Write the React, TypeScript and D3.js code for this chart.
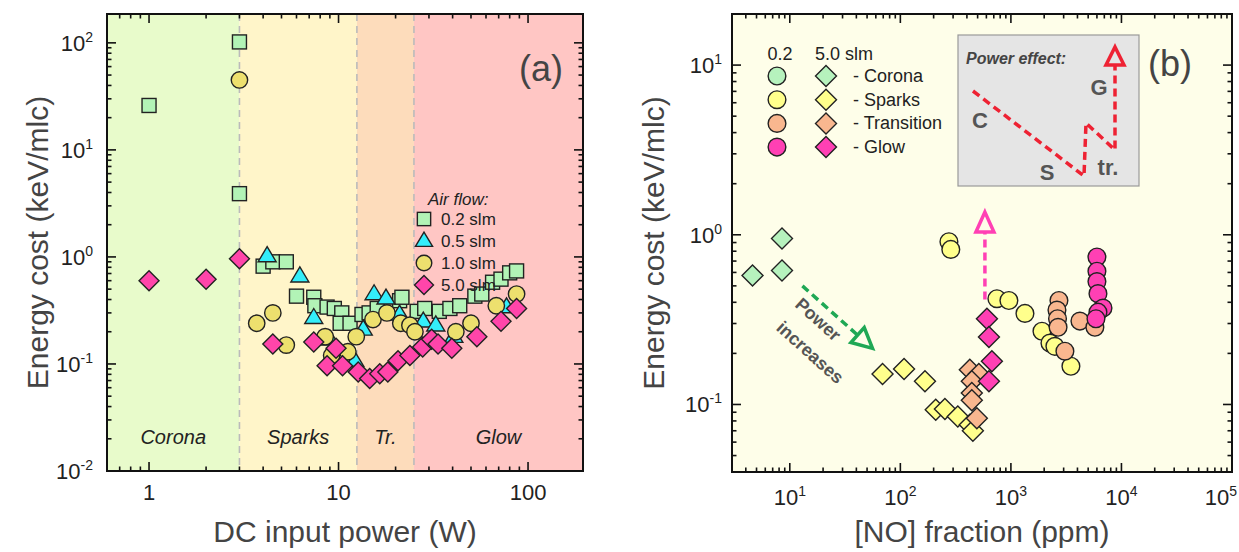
import React from "react";
import * as d3 from "d3";

const FONT = "'Liberation Sans', Arial, Helvetica, sans-serif";

// ---- panel (a): energy cost (keV/mlc) vs DC input power (W), by air flow ----
const flow02: [number, number][] = [
  [1, 26], [3, 102], [3, 3.9], [4.0, 0.82], [4.5, 0.9], [5.3, 0.9], [6.0, 0.43],
  [7.4, 0.42], [7.5, 0.35], [8.7, 0.34], [9.5, 0.33], [10.4, 0.3], [10.2, 0.24],
  [11.5, 0.24], [13.3, 0.29], [14.5, 0.3], [16, 0.33], [21, 0.39], [21.6, 0.42],
  [26, 0.31], [28.5, 0.33], [34, 0.31], [38.7, 0.33], [43.6, 0.35], [52.4, 0.43],
  [57, 0.45], [65, 0.58], [72, 0.62], [80, 0.71], [87, 0.74],
];
const flow05: [number, number][] = [
  [4.2, 1.02], [6.25, 0.66], [7.4, 0.27], [9, 0.17], [12.2, 0.107], [13.5, 0.21],
  [15.4, 0.45], [17.8, 0.41], [21, 0.29], [28, 0.25], [32.6, 0.23], [40.6, 0.18], [77, 0.34],
];
const flow10: [number, number][] = [
  [3, 45], [3.7, 0.24], [4.5, 0.3], [5.3, 0.15], [8.5, 0.18], [9.2, 0.12], [11.2, 0.13],
  [12.4, 0.18], [15.2, 0.26], [18, 0.3], [21.3, 0.24], [23.8, 0.23], [25.3, 0.2],
  [41.6, 0.2], [50, 0.24], [68, 0.35], [87, 0.45],
];
const flow50: [number, number][] = [
  [1, 0.6], [2, 0.62], [3, 0.96], [4.5, 0.154], [7.4, 0.16], [8.7, 0.096], [9.7, 0.14],
  [10.5, 0.096], [12.7, 0.084], [14.6, 0.073], [16.5, 0.081], [18.2, 0.084], [20.6, 0.107],
  [23.8, 0.12], [27.8, 0.144], [31, 0.17], [33.5, 0.154], [39.6, 0.14], [53.7, 0.18],
  [72, 0.25], [87, 0.33],
];
const flowLabels = ["0.2 slm", "0.5 slm", "1.0 slm", "5.0 slm"];

const regimeNames = ["Corona", "Sparks", "Tr.", "Glow"];
const regimeEdges = [0.6, 3, 12.5, 25, 195];
const regimeFills = ["#e8fbcb", "#fff5c9", "#fddcbb", "#ffc6c4"];

// ---- panel (b): energy cost vs [NO] (ppm); 0.2 slm circles, 5.0 slm diamonds ----
const coronaDiamonds: [number, number][] = [[4.6, 0.575], [8.5, 0.95], [8.5, 0.615]];
const sparksDiamonds: [number, number][] = [
  [69, 0.151], [108, 0.162], [167, 0.137], [209, 0.093], [253, 0.094], [331, 0.085],
  [425, 0.076], [453, 0.07],
];
const transDiamonds: [number, number][] = [
  [425, 0.16], [513, 0.151], [443, 0.137], [443, 0.117], [443, 0.106], [492, 0.083],
];
const glowDiamonds: [number, number][] = [[607, 0.32], [633, 0.25], [673, 0.18], [633, 0.137]];
const sparksCircles: [number, number][] = [
  [275, 0.91], [286, 0.82], [747, 0.42], [959, 0.41], [1340, 0.344], [1910, 0.27],
  [2255, 0.23], [2500, 0.22], [3490, 0.168],
];
const transCircles: [number, number][] = [
  [2720, 0.41], [2610, 0.36], [2640, 0.32], [2670, 0.285], [3080, 0.206], [4210, 0.31], [5750, 0.285],
];
const glowCircles: [number, number][] = [
  [6000, 0.74], [6000, 0.61], [6000, 0.53], [6130, 0.45], [6810, 0.37], [6130, 0.35], [5880, 0.32],
];
const stageNames = ["- Corona", "- Sparks", "- Transition", "- Glow"];
const stageFills = ["#b6f2bd", "#ffff8c", "#f9b78f", "#ff40b4"];

const box = {
  a: { l: 107, r: 583, t: 14, b: 471 },
  b: { l: 732, r: 1232, t: 14, b: 472 },
};

const xA = d3.scaleLog().domain([0.6, 195]).range([box.a.l, box.a.r]);
const yA = d3.scaleLog().domain([0.01, 186]).range([box.a.b, box.a.t]);
const xB = d3.scaleLog().domain([3, 1e5]).range([box.b.l, box.b.r]);
const yB = d3.scaleLog().domain([0.04, 20]).range([box.b.b, box.b.t]);

const isPow10 = (v: number) => Math.abs(Math.log10(v) - Math.round(Math.log10(v))) < 1e-6;

function Marker({ shape, x, y, fill, s = 1 }: { shape: string; x: number; y: number; fill: string; s?: number }) {
  const st = { fill, stroke: "#222", strokeWidth: 1.4 };
  if (shape === "square") return <rect x={x - 7 * s} y={y - 7 * s} width={14 * s} height={14 * s} {...st} />;
  if (shape === "circle") return <circle cx={x} cy={y} r={8.2 * s} {...st} />;
  if (shape === "diamond") {
    const h = 10 * s;
    return <path d={`M${x},${y - h}L${x + h},${y}L${x},${y + h}L${x - h},${y}Z`} {...st} />;
  }
  const w = 9 * s, hh = 15 * s;
  return <path d={`M${x},${y - hh * 0.62}L${x + w},${y + hh * 0.38}L${x - w},${y + hh * 0.38}Z`} {...st} />;
}

function Pow({ x, y, e, anchor }: { x: number; y: number; e: number; anchor: string }) {
  return (
    <text x={x} y={y} textAnchor={anchor} fontSize={22} fill="#222">
      10<tspan dy={-9} fontSize={14}>{e}</tspan>
    </text>
  );
}

function Frame({ bx, xs, ys }: { bx: { l: number; r: number; t: number; b: number }; xs: any; ys: any }) {
  const xt = xs.ticks().filter((v: number) => v >= xs.domain()[0] && v <= xs.domain()[1]);
  const yt = ys.ticks().filter((v: number) => v >= ys.domain()[0] && v <= ys.domain()[1]);
  return (
    <g stroke="#111" strokeWidth={1.6}>
      {xt.map((v: number, i: number) => {
        const L = isPow10(v) ? 9 : 4.5;
        const x = xs(v);
        return (
          <g key={"x" + i}>
            <line x1={x} x2={x} y1={bx.b} y2={bx.b - L} />
            <line x1={x} x2={x} y1={bx.t} y2={bx.t + L} />
          </g>
        );
      })}
      {yt.map((v: number, i: number) => {
        const L = isPow10(v) ? 9 : 4.5;
        const y = ys(v);
        return (
          <g key={"y" + i}>
            <line x1={bx.l} x2={bx.l + L} y1={y} y2={y} />
            <line x1={bx.r} x2={bx.r - L} y1={y} y2={y} />
          </g>
        );
      })}
      <rect x={bx.l} y={bx.t} width={bx.r - bx.l} height={bx.b - bx.t} fill="none" strokeWidth={2} />
    </g>
  );
}

function arrowHead(x0: number, y0: number, x1: number, y1: number, len: number, half: number) {
  const dx = x1 - x0, dy = y1 - y0;
  const d = Math.hypot(dx, dy);
  const ux = dx / d, uy = dy / d;
  const bx = x1 - ux * len, by = y1 - uy * len;
  return {
    base: [bx, by],
    path: `M${x1},${y1}L${bx - uy * half},${by + ux * half}L${bx + uy * half},${by - ux * half}Z`,
  };
}

function PanelA() {
  const series: [string, [number, number][], string][] = [
    ["square", flow02, "#b2f3b6"],
    ["triangle", flow05, "#33eefa"],
    ["circle", flow10, "#ede06e"],
    ["diamond", flow50, "#ff45aa"],
  ];
  return (
    <g>
      {regimeNames.map((n, i) => (
        <rect key={n} x={xA(regimeEdges[i])} y={box.a.t} width={xA(regimeEdges[i + 1]) - xA(regimeEdges[i])}
          height={box.a.b - box.a.t} fill={regimeFills[i]} />
      ))}
      {regimeEdges.slice(1, -1).map((e) => (
        <line key={e} x1={xA(e)} x2={xA(e)} y1={box.a.t} y2={box.a.b} stroke="#bbbbbb" strokeWidth={1.6} strokeDasharray="7 5" />
      ))}
      {regimeNames.map((n, i) => (
        <text key={n} x={(xA(regimeEdges[i]) + xA(regimeEdges[i + 1])) / 2} y={444}
          textAnchor="middle" fontStyle="italic" fontSize={20} fill="#222">{n}</text>
      ))}
      {series.map(([shape, data, fill]) =>
        data.map((d, i) => <Marker key={shape + i} shape={shape} x={xA(d[0])} y={yA(d[1])} fill={fill} />)
      )}
      <Frame bx={box.a} xs={xA} ys={yA} />
      {[-2, -1, 0, 1, 2].map((e) => <Pow key={e} x={93} y={yA(Math.pow(10, e)) + 8} e={e} anchor="end" />)}
      {[1, 10, 100].map((v) => (
        <text key={v} x={xA(v)} y={500} textAnchor="middle" fontSize={22} fill="#222">{v}</text>
      ))}
      <text x={(box.a.l + box.a.r) / 2} y={542} textAnchor="middle" fontSize={30} fill="#444">DC input power (W)</text>
      <text transform={`translate(48,${(box.a.t + box.a.b) / 2}) rotate(-90)`} textAnchor="middle" fontSize={30} fill="#444">
        Energy cost (keV/mlc)
      </text>
      <text x={519} y={81} fontSize={36} fill="#444">(a)</text>
      <text x={428} y={205} fontStyle="italic" fontSize={17} fill="#222">Air flow:</text>
      {series.map(([shape, , fill], i) => (
        <g key={"lg" + i}>
          <Marker shape={shape} x={424} y={219 + i * 22} fill={fill} s={0.95} />
          <text x={441} y={225 + i * 22} fontSize={17} fill="#222">{flowLabels[i]}</text>
        </g>
      ))}
    </g>
  );
}

function PanelB() {
  const diamonds = [coronaDiamonds, sparksDiamonds, transDiamonds, glowDiamonds];
  const circles = [sparksCircles, transCircles, glowCircles];
  // green "power increases" arrow
  const g0 = [xB(13), yB(0.5)], g1 = [xB(56), yB(0.214)];
  const gh = arrowHead(g0[0], g0[1], g1[0], g1[1], 20, 10);
  // pink arrow
  const p0 = [xB(582), yB(0.416)], p1 = [xB(582), yB(1.36)];
  const ph = arrowHead(p0[0], p0[1], p1[0], p1[1], 20, 9);
  // inset diagram
  const ins = { x: 958, y: 35, w: 181, h: 151 };
  const insPts: [number, number][] = [[15, 56], [126, 141], [128, 88], [157, 115], [157, 30]];
  const ip = insPts.map(([u, v]) => [ins.x + u, ins.y + v]);
  const ih = arrowHead(ip[4][0], ip[4][1] + 10, ip[4][0], ins.y + 12, 18, 9);
  return (
    <g>
      <rect x={box.b.l} y={box.b.t} width={box.b.r - box.b.l} height={box.b.b - box.b.t} fill="#fefee9" />
      {diamonds.map((data, k) =>
        data.map((d, i) => <Marker key={"d" + k + i} shape="diamond" x={xB(d[0])} y={yB(d[1])} fill={stageFills[k]} s={1.05} />)
      )}
      {circles.map((data, k) =>
        data.map((d, i) => <Marker key={"c" + k + i} shape="circle" x={xB(d[0])} y={yB(d[1])} fill={stageFills[k + 1]} s={1.08} />)
      )}
      <line x1={g0[0]} y1={g0[1]} x2={gh.base[0]} y2={gh.base[1]} stroke="#1fa855" strokeWidth={3.5} strokeDasharray="8 5" />
      <path d={gh.path} fill="none" stroke="#1fa855" strokeWidth={3.5} strokeLinejoin="miter" />
      <g transform={`translate(814,324) rotate(42)`}>
        <text textAnchor="middle" fontWeight="bold" fontSize={18} fill="#555">Power</text>
      </g>
      <g transform={`translate(806,357) rotate(42)`}>
        <text textAnchor="middle" fontWeight="bold" fontSize={18} fill="#555">increases</text>
      </g>
      <line x1={p0[0]} y1={p0[1]} x2={ph.base[0]} y2={ph.base[1]} stroke="#ff40b4" strokeWidth={3.5} strokeDasharray="8 5" />
      <path d={ph.path} fill="none" stroke="#ff40b4" strokeWidth={3.5} />

      <rect x={ins.x} y={ins.y} width={ins.w} height={ins.h} fill="#e5e5e5" stroke="#999" strokeWidth={1.2} />
      <text x={ins.x + 8} y={ins.y + 29} fontWeight="bold" fontStyle="italic" fontSize={16} fill="#444">Power effect:</text>
      <polyline points={ip.map((p) => p.join(",")).join(" ")} fill="none" stroke="#ee2233" strokeWidth={3.5} strokeDasharray="8 5" />
      <path d={ih.path} fill="#e5e5e5" stroke="#ee2233" strokeWidth={3.5} />
      {[["C", 22, 85], ["S", 89, 137], ["tr.", 150, 132], ["G", 141, 52]].map(([t, u, v]) => (
        <text key={t as string} x={ins.x + (u as number)} y={ins.y + (v as number) + 8} textAnchor="middle" fontWeight="bold" fontSize={22} fill="#555">{t}</text>
      ))}

      <text x={780} y={60} textAnchor="middle" fontSize={18} fill="#222">0.2</text>
      <text x={815} y={60} fontSize={18} fill="#222">5.0 slm</text>
      {stageNames.map((n, i) => (
        <g key={n}>
          <Marker shape="circle" x={777} y={76 + i * 23.7} fill={stageFills[i]} s={1.08} />
          <Marker shape="diamond" x={826} y={76 + i * 23.7} fill={stageFills[i]} s={1.05} />
          <text x={853} y={82 + i * 23.7} fontSize={18} fill="#222">{n}</text>
        </g>
      ))}

      <Frame bx={box.b} xs={xB} ys={yB} />
      {[-1, 0, 1].map((e) => <Pow key={e} x={722} y={yB(Math.pow(10, e)) + 8} e={e} anchor="end" />)}
      {[1, 2, 3, 4].map((e) => <Pow key={e} x={xB(Math.pow(10, e))} y={505} e={e} anchor="middle" />)}
      {/* last label kept inside the page */}
      <Pow x={1237} y={505} e={5} anchor="end" />
      <text x={(box.b.l + box.b.r) / 2} y={542} textAnchor="middle" fontSize={30} fill="#444">[NO] fraction (ppm)</text>
      <text transform={`translate(664,${(box.b.t + box.b.b) / 2}) rotate(-90)`} textAnchor="middle" fontSize={30} fill="#444">
        Energy cost (keV/mlc)
      </text>
      <text x={1148} y={76} fontSize={36} fill="#444">(b)</text>
    </g>
  );
}

export default function App() {
  return (
    <svg width={1239} height={552} style={{ position: "absolute", left: 0, top: 0, background: "#fff" }} fontFamily={FONT}>
      <rect width={1239} height={552} fill="#fff" />
      <PanelA />
      <PanelB />
    </svg>
  );
}
